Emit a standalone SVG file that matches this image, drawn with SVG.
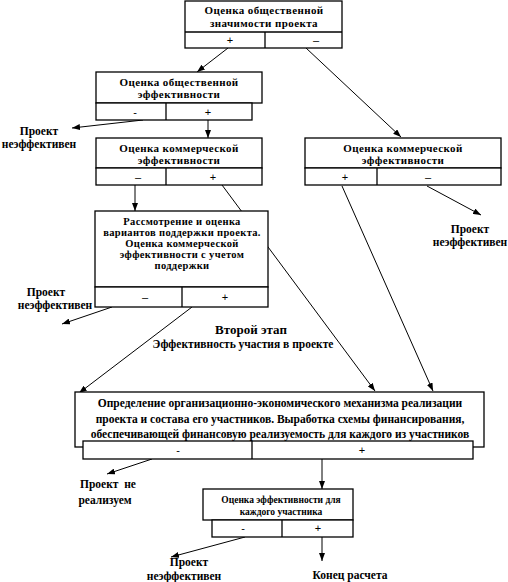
<svg xmlns="http://www.w3.org/2000/svg" width="508" height="582" viewBox="0 0 508 582">
<style>
.b{fill:#fff;stroke:#000;stroke-width:1.3}
.d{stroke:#000;stroke-width:1.3;fill:none}
.t{font-family:"Liberation Serif","Times New Roman",serif;font-weight:bold;fill:#000;text-anchor:middle}
.h{font-size:11px;letter-spacing:0.4px}
.m{font-size:10.5px;letter-spacing:0.35px}
.s{font-family:"Liberation Sans",Arial,sans-serif;font-size:11px;fill:#000;text-anchor:middle}
.c{stroke:#000;stroke-width:1;fill:none;marker-end:url(#a)}
</style>
<defs>
<marker id="a" viewBox="0 0 8 6" refX="8" refY="3" markerWidth="8" markerHeight="6" markerUnits="userSpaceOnUse" orient="auto">
<path d="M0,0 L8,3 L0,6 Z" fill="#000"/>
</marker>
</defs>
<rect width="508" height="582" fill="#fff"/>
<g id="connectors">
<line class="c" x1="228" y1="48" x2="197" y2="72"/>
<line class="c" x1="306" y1="48" x2="401" y2="137"/>
<line class="c" x1="143" y1="120" x2="72" y2="128"/>
<line class="c" x1="208" y1="120" x2="208" y2="138"/>
<line class="c" x1="135" y1="185" x2="135" y2="211"/>
<line class="c" x1="222" y1="185" x2="375" y2="391"/>
<line class="c" x1="342" y1="186" x2="433" y2="391"/>
<line class="c" x1="427" y1="186" x2="481" y2="215"/>
<line class="c" x1="112" y1="307" x2="62" y2="324"/>
<line class="c" x1="192" y1="307" x2="79" y2="393"/>
<line class="c" x1="152" y1="459" x2="107" y2="474"/>
<line class="c" x1="322" y1="459" x2="322" y2="489"/>
<line class="c" x1="245" y1="537" x2="171" y2="557"/>
<line class="c" x1="322" y1="537" x2="322" y2="561"/>
</g>
<g id="n1">
<rect class="b" x="185" y="1" width="157" height="47"/>
<line class="d" x1="185" y1="32" x2="342" y2="32"/>
<line class="d" x1="265" y1="32" x2="265" y2="48"/>
<text class="t h" x="264" y="14">Оценка общественной</text>
<text class="t h" x="264" y="27">значимости проекта</text>
<text class="s" x="230" y="44">+</text>
<text class="s" x="316" y="44">–</text>
</g>
<g id="n2">
<rect class="b" x="96" y="72" width="166" height="31"/>
<rect class="b" x="96" y="103" width="156" height="17"/>
<line class="d" x1="166" y1="103" x2="166" y2="120"/>
<text class="t h" x="179" y="86">Оценка общественной</text>
<text class="t h" x="179" y="98">эффективности</text>
<text class="s" x="135" y="116">-</text>
<text class="s" x="208" y="116">+</text>
</g>
<g id="n3">
<rect class="b" x="96" y="138" width="166" height="30"/>
<rect class="b" x="96" y="168" width="166" height="17"/>
<line class="d" x1="166" y1="168" x2="166" y2="185"/>
<text class="t h" x="179" y="152">Оценка коммерческой</text>
<text class="t h" x="179" y="164">эффективности</text>
<text class="s" x="138" y="181">–</text>
<text class="s" x="213" y="181">+</text>
</g>
<g id="n4">
<rect class="b" x="305" y="138" width="196" height="30"/>
<rect class="b" x="305" y="168" width="196" height="17"/>
<line class="d" x1="377" y1="168" x2="377" y2="185"/>
<text class="t h" x="403" y="152">Оценка коммерческой</text>
<text class="t h" x="403" y="164">эффективности</text>
<text class="s" x="345" y="181">+</text>
<text class="s" x="428" y="181">–</text>
</g>
<g id="n5">
<rect class="b" x="95" y="211" width="173" height="76"/>
<rect class="b" x="95" y="287" width="173" height="20"/>
<line class="d" x1="182" y1="287" x2="182" y2="307"/>
<text class="t m" x="182" y="225">Рассмотрение и оценка</text>
<text class="t m" x="182" y="236">вариантов поддержки проекта.</text>
<text class="t m" x="182" y="247">Оценка коммерческой</text>
<text class="t m" x="182" y="258">эффективности с учетом</text>
<text class="t m" x="182" y="269">поддержки</text>
<text class="s" x="145" y="301">–</text>
<text class="s" x="225" y="301">+</text>
</g>
<g id="n6">
<rect class="b" x="75" y="392" width="409" height="55"/>
<rect class="b" x="83" y="441" width="390" height="18"/>
<line class="d" x1="252" y1="441" x2="252" y2="459"/>
<text class="t" font-size="11.5" x="280" y="407">Определение организационно-экономического механизма реализации</text>
<text class="t" font-size="11.5" x="280" y="423">проекта и состава его участников. Выработка схемы финансирования,</text>
<text class="t" font-size="11.5" x="280" y="438">обеспечивающей финансовую реализуемость для каждого из участников</text>
<text class="s" x="178" y="454">-</text>
<text class="s" x="362" y="454">+</text>
</g>
<g id="n7">
<rect class="b" x="203" y="489" width="150" height="31"/>
<rect class="b" x="212" y="520" width="141" height="17"/>
<line class="d" x1="282" y1="520" x2="282" y2="537"/>
<text class="t" font-size="9.5" x="281" y="503">Оценка эффективности для</text>
<text class="t" font-size="9.5" x="281" y="515">каждого участника</text>
<text class="s" x="243" y="532">-</text>
<text class="s" x="318" y="532">+</text>
</g>
<g id="labels">
<text class="t" font-size="11.5" x="39" y="135">Проект</text>
<text class="t" font-size="11.5" x="39" y="148">неэффективен</text>
<text class="t" font-size="11.5" x="470" y="233">Проект</text>
<text class="t" font-size="11.5" x="470" y="246">неэффективен</text>
<text class="t" font-size="11.5" x="46" y="296">Проект</text>
<text class="t" font-size="11.5" x="55" y="309">неэффективен</text>
<text class="t" font-size="13" x="251" y="334">Второй этап</text>
<text class="t" font-size="11.5" x="243" y="348">Эффективность участия в проекте</text>
<text class="t" font-size="11.5" x="108" y="488" xml:space="preserve">Проект  не</text>
<text class="t" font-size="11.5" x="105" y="504">реализуем</text>
<text class="t" font-size="11.5" x="189" y="566">Проект</text>
<text class="t" font-size="11.5" x="184" y="580">неэффективен</text>
<text class="t" font-size="11.5" x="350" y="579">Конец расчета</text>
</g>
</svg>
